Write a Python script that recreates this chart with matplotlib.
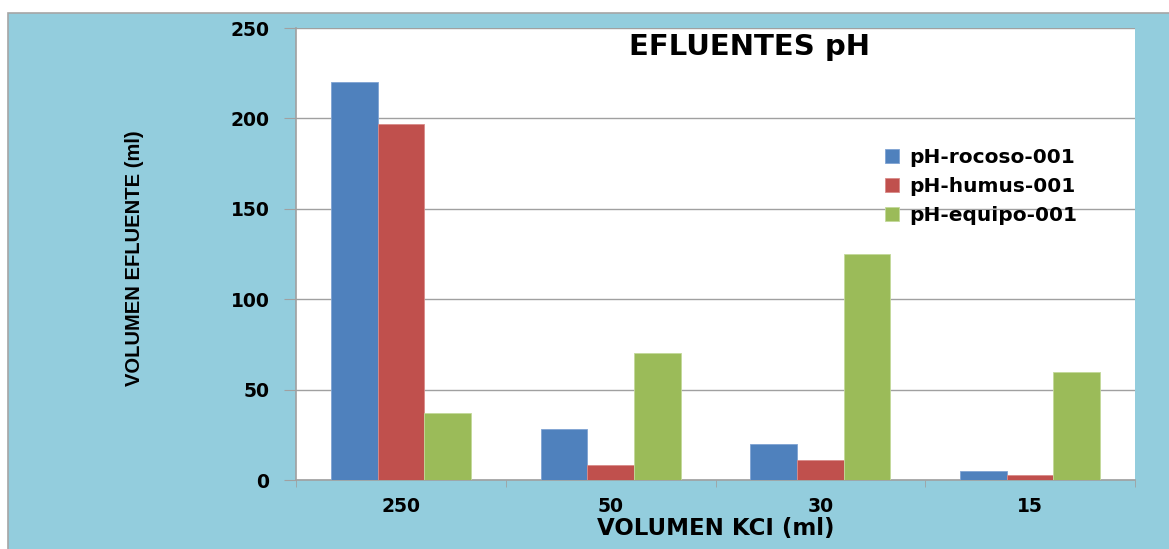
import matplotlib.pyplot as plt
import matplotlib.patches as patches
import numpy as np

categories = ["250", "50", "30", "15"]
series_names = ["pH-rocoso-001", "pH-humus-001", "pH-equipo-001"]
rocoso = [220, 28, 20, 5]
humus = [197, 8.5, 11, 3]
equipo = [37, 70, 125, 60]
colors = ["#4F81BD", "#C0504D", "#9BBB59"]
edges = ["#7FA3D3", "#D98B89", "#C3D99A"]

plt.rcParams['font.family'] = ['DejaVu Sans']

fig = plt.figure(figsize=(11.69, 5.49), dpi=100)
fig.patch.set_facecolor("white")
panel = patches.Rectangle((8 / 1169, -0.01), 1.0, 1 - 13 / 549 + 0.01,
                          transform=fig.transFigure, facecolor="#93CDDD",
                          edgecolor="#A6A6A6", linewidth=1.2, zorder=-5)
fig.patches.append(panel)

ax = fig.add_axes([296 / 1169, 69 / 549, 839 / 1169, 452 / 549])
ax.set_facecolor("white")

x = np.arange(len(categories))
w = 1 / 4.5
for i, vals in enumerate([rocoso, humus, equipo]):
    ax.bar(x + (i - 1) * w, vals, w, color=colors[i], edgecolor=edges[i],
           linewidth=0.6, label=series_names[i], zorder=3)

ax.set_xlim(-0.5, len(categories) - 0.5)
ax.set_ylim(0, 250)
ax.set_yticks(range(0, 251, 50))
ax.yaxis.grid(True, color="#A0A0A0", linewidth=1.0, zorder=0)
ax.set_axisbelow(True)

for s in ["top", "right"]:
    ax.spines[s].set_visible(False)
ax.spines["left"].set_color("#A0A0A0")
ax.spines["bottom"].set_color("#A0A0A0")
ax.spines["left"].set_linewidth(1.2)
ax.spines["bottom"].set_linewidth(1.2)

ax.set_xticks(x)
ax.set_xticklabels(categories, fontsize=13.5, fontweight="bold")
ax.set_xticks(np.arange(-0.5, len(categories), 1.0), minor=True)
ax.tick_params(axis="x", which="major", length=0, pad=12)
ax.tick_params(axis="x", which="minor", length=5, color="#A0A0A0")
ax.tick_params(axis="y", length=9, color="#A0A0A0", labelsize=13.5, pad=10)
for lab in ax.get_yticklabels():
    lab.set_fontweight("bold")

ax.set_xlabel("VOLUMEN KCI (ml)", fontsize=16.5, fontweight="bold", labelpad=1)
fig.text(134 / 1169, 1 - 258 / 549, "VOLUMEN EFLUENTE (ml)", rotation=90,
         ha="center", va="center", fontsize=14.5, fontweight="bold",
         family=["Liberation Sans Narrow", "Liberation Sans", "DejaVu Sans"])

ax.text(1.66, 239.5, "EFLUENTES pH", ha="center", va="center",
        fontsize=21, fontweight="bold")

leg = ax.legend(loc="upper left", bbox_to_anchor=(0.68, 0.775), frameon=False,
                prop={"weight": "bold", "size": 14.5}, handlelength=0.7,
                handleheight=0.7, handletextpad=0.5, labelspacing=0.5)

fig.savefig("out.png", dpi=100)
